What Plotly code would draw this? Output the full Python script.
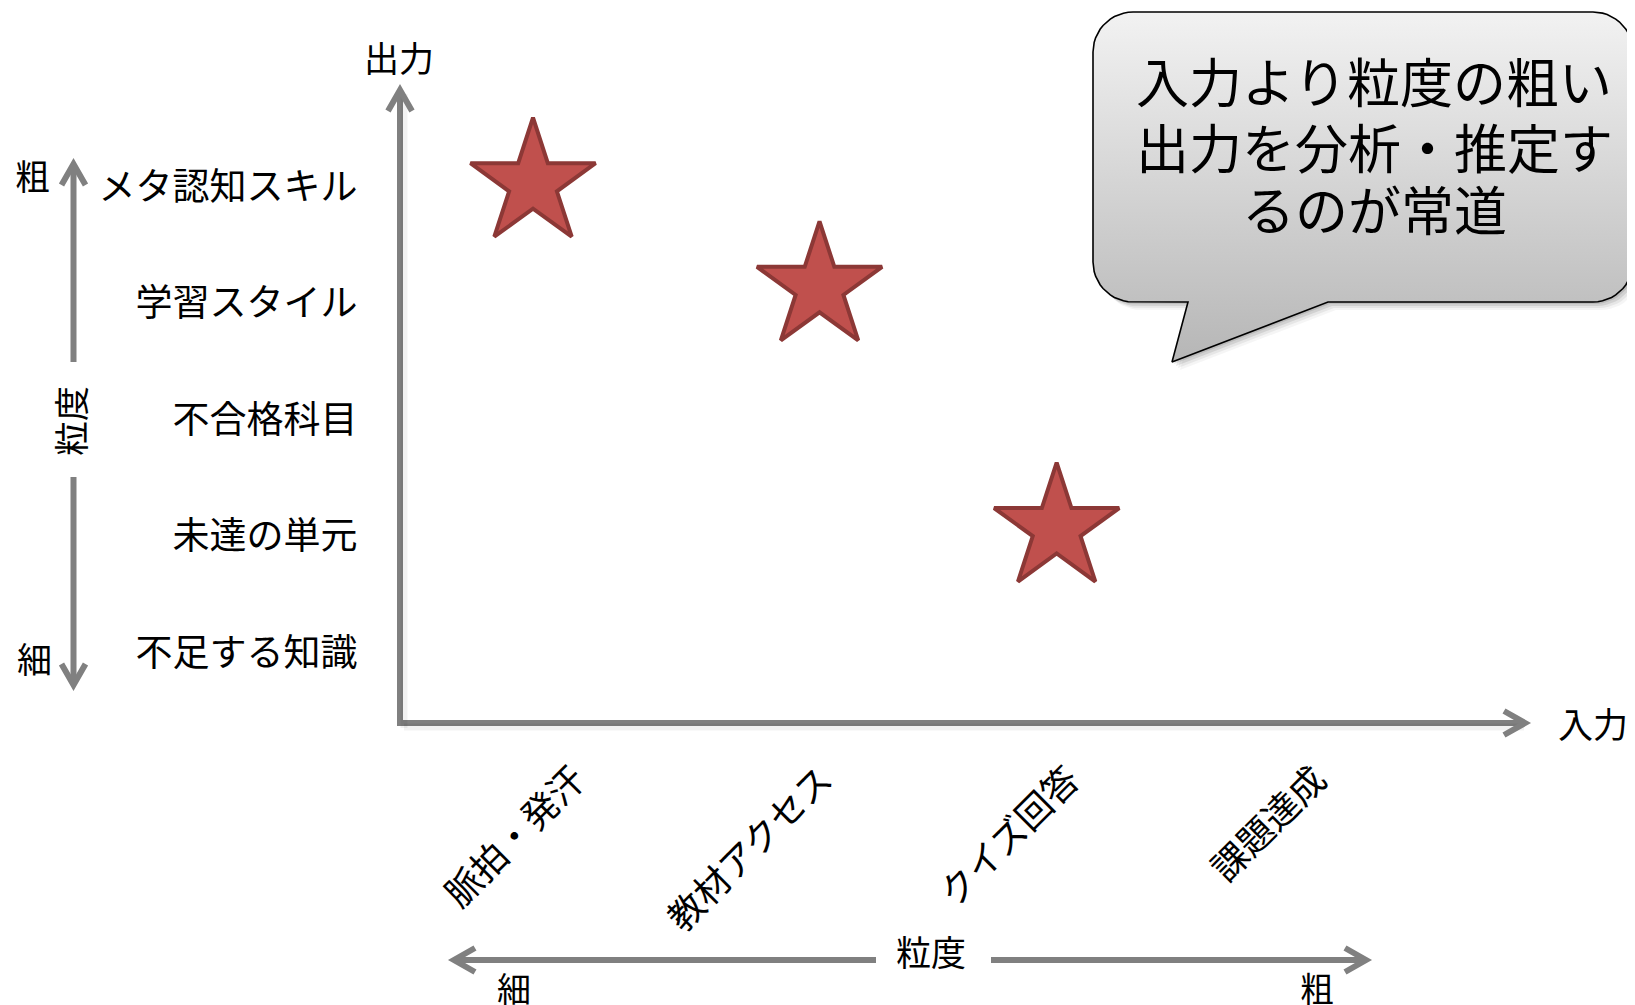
import numpy as np
import plotly.graph_objects as go

W, H = 1635, 1005          # page (viewport) size
OFF = 8                    # default body margin of the html page
FW, FH = W - OFF, H - OFF  # figure size
FONT = "Noto Sans CJK JP"
GRAY = "#808080"

# ---------------- data ----------------
output_levels = ["不足する知識", "未達の単元", "不合格科目", "学習スタイル", "メタ認知スキル"]  # y: fine -> coarse
output_pos = [0, 1, 2, 3, 4]
input_levels = ["脈拍・発汗", "教材アクセス", "クイズ回答", "課題達成"]  # x: fine -> coarse
input_pos = [1, 2, 3, 4]
star_x = [0.83, 1.99, 2.95]
star_y = [4.03, 3.14, 1.07]
callout_lines = ["入力より粒度の粗い", "出力を分析・推定す", "るのが常道"]
x_title = "入力"
y_title = "出力"
grain_label = "粒度"
coarse_label = "粗"
fine_label = "細"

# ---------------- geometry (page pixels) ----------------
PL, PR, PT, PB = 403, 1525, 90, 720      # main plot box
X_PX0, X_PX_STEP = 328.0, 247.0
Y_PX0, Y_PX_STEP = 653.0, 116.5
x_range = [(PL - X_PX0) / X_PX_STEP, (PR - X_PX0) / X_PX_STEP]
y_range = [(Y_PX0 - PB) / Y_PX_STEP, (Y_PX0 - PT) / Y_PX_STEP]

fig = go.Figure()

# ---------------- callout bubble (pixel overlay axes x2/y2) ----------------
def bubble_path(L, T, R, B, r, tail):
    pts = []
    def arc(cx, cy, a0, a1):
        for a in np.linspace(a0, a1, 14):
            pts.append((cx + r * np.cos(a), cy + r * np.sin(a)))
    arc(L + r, T + r, np.pi, 1.5 * np.pi)
    arc(R - r, T + r, 1.5 * np.pi, 2 * np.pi)
    arc(R - r, B - r, 0, 0.5 * np.pi)
    pts.extend(tail)
    arc(L + r, B - r, 0.5 * np.pi, np.pi)
    pts.append(pts[0])
    xs, ys = zip(*pts)
    return np.array(xs), np.array(ys)

bx, by = bubble_path(1093, 12, 1633, 302, 40, [(1328, 302), (1172, 362), (1188, 302)])

for off, alpha in [(8, 0.04), (6, 0.06), (4, 0.09), (2, 0.10)]:
    fig.add_trace(go.Scatter(x=bx + off, y=by + off, xaxis="x2", yaxis="y2", mode="lines",
                             fill="toself", fillcolor=f"rgba(0,0,0,{alpha})",
                             line=dict(width=0), hoverinfo="skip", showlegend=False))
fig.add_trace(go.Scatter(x=bx, y=by, xaxis="x2", yaxis="y2", mode="lines", fill="toself",
                         fillgradient=dict(type="vertical", start=12, stop=362,
                                           colorscale=[[0, "#f2f2f2"], [1, "#b6b6b6"]]),
                         line=dict(color="black", width=1.6), hoverinfo="skip", showlegend=False))

# ---------------- stars ----------------
fig.add_trace(go.Scatter(x=star_x, y=star_y, xaxis="x", yaxis="y", mode="markers",
                         marker=dict(symbol="star", size=94, color="#C0504D",
                                     line=dict(color="#8C3836", width=4)),
                         cliponaxis=False, showlegend=False, hoverinfo="skip"))

# ---------------- arrows (decorations) ----------------
shapes = []

def seg(x0, y0, x1, y1, w=6, color=GRAY):
    shapes.append(dict(type="line", xref="x2", yref="y2", x0=x0, y0=y0, x1=x1, y1=y1,
                       line=dict(color=color, width=w), layer="above"))

def chevron(tx, ty, dx, dy, back=21, side=12, w=6):
    vx, vy = tx - dx * 5, ty - dy * 5
    bxx, byy = vx - dx * back, vy - dy * back
    px, py = -dy * side, dx * side
    path = f"M{bxx + px},{byy + py} L{vx},{vy} L{bxx - px},{byy - py}"
    shapes.append(dict(type="path", xref="x2", yref="y2", path=path,
                       line=dict(color=GRAY, width=w), layer="above"))

# soft shadows under the main axes
seg(404, 94, 404, 728, w=7, color="rgba(0,0,0,0.05)")
seg(404, 727, 1524, 727, w=7, color="rgba(0,0,0,0.05)")
# main axis arrow heads
chevron(400, 85, 0, -1)
chevron(1530, 723, 1, 0)
# left granularity arrow
seg(73.5, 362, 73.5, 166)
chevron(73.5, 159, 0, -1)
seg(73.5, 477, 73.5, 683)
chevron(73.5, 690, 0, 1)
# bottom granularity arrow
seg(876, 960, 456, 960)
chevron(449, 960, -1, 0)
seg(991, 960, 1364, 960)
chevron(1371, 960, 1, 0)

# ---------------- text annotations ----------------
ann = []

def text(x, y, s, size=35, angle=0):
    ann.append(dict(xref="x2", yref="y2", x=x, y=y, text=s, showarrow=False,
                    xanchor="center", yanchor="middle", textangle=angle,
                    font=dict(family=FONT, size=size, color="black")))

text(399, 56, y_title)
text(1593, 722, x_title)
text(32.5, 174, coarse_label)
text(34.5, 657, fine_label)
text(69, 421, grain_label, angle=-90)
text(931, 950, grain_label)
text(514, 987, fine_label, size=34)
text(1317, 987, coarse_label, size=34)
for yy, line in zip([80, 146, 208], callout_lines):
    text(1374, yy, line, size=53)

fig.update_layout(
    width=FW, height=FH, margin=dict(l=0, r=0, t=0, b=0),
    template="none", paper_bgcolor="white", plot_bgcolor="rgba(0,0,0,0)",
    font=dict(family=FONT, color="black"),
    showlegend=False,
    xaxis=dict(domain=[(PL - OFF) / FW, (PR - OFF) / FW], range=x_range, anchor="y",
               tickmode="array", tickvals=input_pos, ticktext=input_levels,
               tickangle=-45, tickfont=dict(family=FONT, size=36, color="black"),
               showgrid=False, zeroline=False, showline=True, linecolor=GRAY, linewidth=6,
               ticks="", ticklabelstandoff=18, automargin=False, fixedrange=True),
    yaxis=dict(domain=[(H - PB) / FH, (H - PT) / FH], range=y_range, anchor="x",
               tickmode="array", tickvals=output_pos, ticktext=output_levels,
               tickfont=dict(family=FONT, size=37, color="black"),
               showgrid=False, zeroline=False, showline=True, linecolor=GRAY, linewidth=6,
               ticks="", ticklabelstandoff=32, automargin=False, fixedrange=True),
    xaxis2=dict(domain=[0, 1], range=[OFF, W], anchor="y2", visible=False, fixedrange=True),
    yaxis2=dict(domain=[0, 1], range=[H, OFF], anchor="x2", visible=False, fixedrange=True),
    shapes=shapes,
    annotations=ann,
)

fig.write_html("out.html")
